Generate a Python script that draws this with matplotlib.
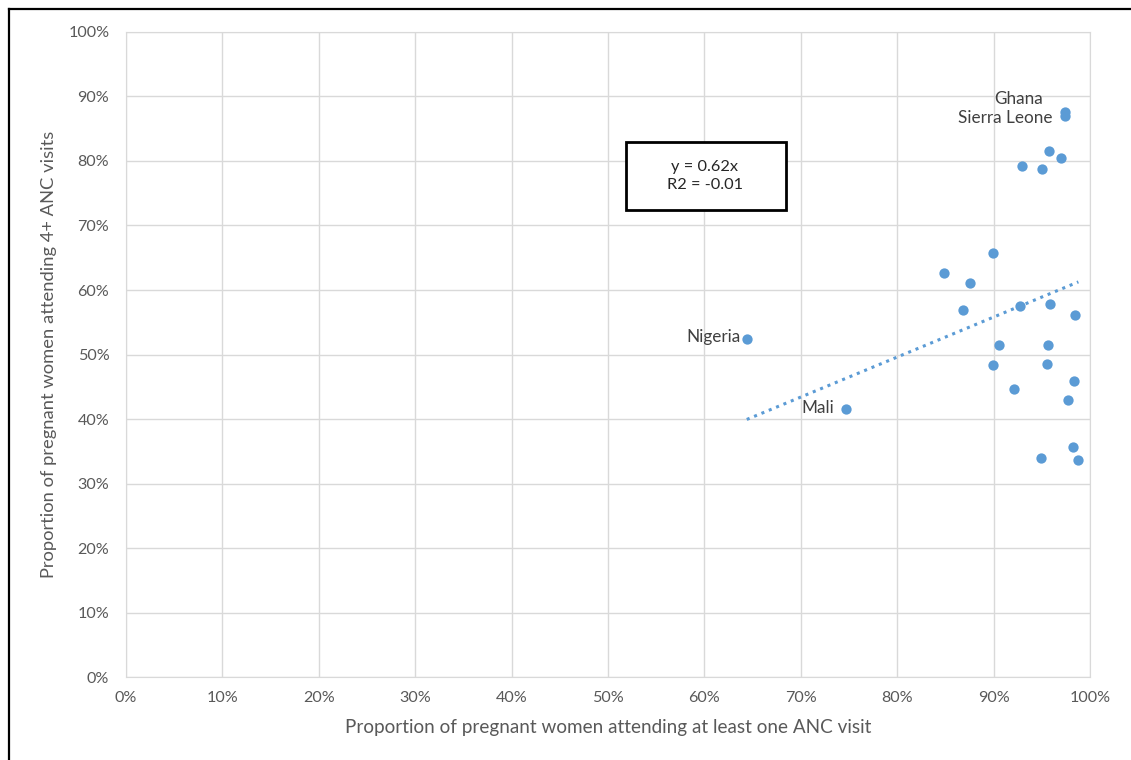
import numpy as np
import matplotlib.pyplot as plt
from matplotlib.lines import Line2D
from matplotlib.patches import Rectangle

plt.rcParams['font.family'] = ['Lato', 'DejaVu Sans']

# proportion attending at least one ANC visit (%), and 4+ visits (%)
anc1 = [97.4, 97.4, 95.8, 97.0, 92.9, 95.0, 89.9, 84.9, 87.6, 86.8, 92.7, 95.9,
        98.5, 90.6, 95.7, 89.9, 95.5, 98.3, 92.1, 97.7, 98.2, 94.9, 98.8, 64.4, 74.7]
anc4 = [87.6, 87.0, 81.5, 80.5, 79.2, 78.8, 65.7, 62.7, 61.1, 56.9, 57.5, 57.9,
        56.1, 51.4, 51.4, 48.3, 48.5, 45.9, 44.7, 43.0, 35.6, 33.9, 33.7, 52.4, 41.6]
names = ["Ghana", "Sierra Leone"] + [""] * 21 + ["Nigeria", "Mali"]
slope = 0.62

fig = plt.figure(figsize=(11.31, 7.60), dpi=100)
ax = fig.add_axes([0.1114, 0.1092, 0.8523, 0.8487])

grid_c = '#d9d9d9'
text_c = '#595959'

ax.scatter(anc1, anc4, s=55, color='#5b9bd5', zorder=3, linewidths=0)

# trend line through origin
xt = np.array([min(anc1), max(anc1)])
ax.plot(xt, slope * xt, linestyle=(0, (1, 1.6)), color='#5b9bd5', lw=2.2, zorder=2)

offsets = {"Ghana": (-22, 13), "Sierra Leone": (-12, -2), "Nigeria": (-6, 2), "Mali": (-12, 1)}
for xv, yv, n in zip(anc1, anc4, names):
    if n:
        dx, dy = offsets[n]
        ax.annotate(n, (xv, yv), xytext=(dx, dy), textcoords='offset pixels',
                    ha='right', va='center', fontsize=12.3, color='#404040')

ax.set_xlim(0, 100)
ax.set_ylim(0, 100)
ax.set_xticks(np.arange(0, 101, 10))
ax.set_yticks(np.arange(0, 101, 10))
ax.set_xticklabels([f"{v}%" for v in range(0, 101, 10)])
ax.set_yticklabels([f"{v}%" for v in range(0, 101, 10)])
ax.grid(True, color=grid_c, lw=1)
ax.set_axisbelow(True)
for s in ax.spines.values():
    s.set_color(grid_c)
ax.tick_params(length=0, colors=text_c, labelsize=11.6, pad=10)
ax.tick_params(axis='y', pad=12)

ax.set_xlabel("Proportion of pregnant women attending at least one ANC visit",
              fontsize=13.6, color=text_c, labelpad=10)
ax.set_ylabel("Proportion of pregnant women attending 4+ ANC visits",
              fontsize=13.2, color=text_c, labelpad=8)

# equation box
ax.add_patch(Rectangle((0.5187, 0.724), 0.166, 0.1054, transform=ax.transAxes,
                       fc='white', ec='black', lw=2, zorder=4))
ax.text(0.6006, 0.777, "y = 0.62x\nR2 = -0.01", transform=ax.transAxes,
        ha='center', va='center', fontsize=11.8, color='#262626', linespacing=1.4, zorder=5)

# outer frame (left and top only)
fig.add_artist(Line2D([0.008, 0.008], [0, 0.988], transform=fig.transFigure, color='black', lw=1.6))
fig.add_artist(Line2D([0.008, 1], [0.988, 0.988], transform=fig.transFigure, color='black', lw=1.6))

fig.savefig('out.png', dpi=100)
